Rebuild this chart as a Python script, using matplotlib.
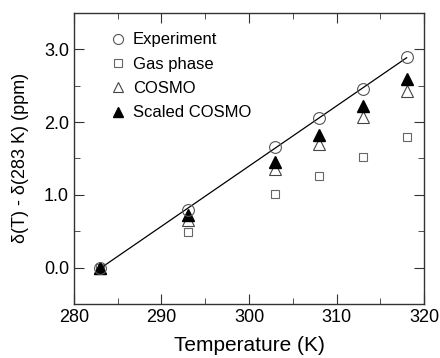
import numpy as np
import matplotlib
matplotlib.use('Agg')
import matplotlib.pyplot as plt
from matplotlib.ticker import MultipleLocator

plt.rcParams['font.family'] = ['Liberation Sans', 'DejaVu Sans']

# temperatures (K)
temp = [283, 293, 303, 308, 313, 318]
# shift differences (ppm)
experiment = [0.0, 0.795, 1.655, 2.058, 2.449, 2.899]
gas_phase = [0.0, 0.487, 1.01, 1.259, 1.525, 1.796]
cosmo = [0.0, 0.66, 1.355, 1.704, 2.07, 2.425]
scaled_cosmo = [0.0, 0.726, 1.447, 1.828, 2.219, 2.586]

fig = plt.figure(figsize=(4.4, 3.58), dpi=100)
ax = fig.add_axes([0.168, 0.151, 0.796, 0.813])

# linear fit of experiment
k, b = np.polyfit(temp, experiment, 1)
xs = np.array([temp[0], temp[-1]])
ax.plot(xs, k * xs + b, color='black', lw=0.9, zorder=5)

ax.plot(temp, gas_phase, 's', ms=6, mfc='none', mec='#666666', mew=0.8,
        ls='none', label='Gas phase', zorder=2)
ax.plot(temp, cosmo, '^', ms=9, mfc='white', mec='#444444', mew=0.8,
        ls='none', label='COSMO', zorder=3)
ax.plot(temp, scaled_cosmo, '^', ms=9, mfc='black', mec='black',
        ls='none', label='Scaled COSMO', zorder=4)
ax.plot(temp, experiment, 'o', ms=8.5, mfc='none', mec='#555555', mew=0.8,
        ls='none', label='Experiment', zorder=6)

h, l = ax.get_legend_handles_labels()
order = [3, 0, 1, 2]
ax.legend([h[i] for i in order], [l[i] for i in order], loc='upper left',
          bbox_to_anchor=(0.102, 0.933), frameon=False, fontsize=12,
          borderpad=0, borderaxespad=0,
          handlelength=1.0, handletextpad=0.4, labelspacing=0.56,
          markerscale=0.85)

ax.set_xlim(280, 320)
ax.set_ylim(-0.5, 3.5)
ax.xaxis.set_major_locator(MultipleLocator(10))
ax.xaxis.set_minor_locator(MultipleLocator(5))
ax.yaxis.set_major_locator(MultipleLocator(1.0))
ax.yaxis.set_minor_locator(MultipleLocator(0.5))
ax.yaxis.set_major_formatter(matplotlib.ticker.FormatStrFormatter('%.1f'))
ax.tick_params(which='both', direction='in', top=True, right=True,
               labelsize=13, color='#333333')
ax.tick_params(which='major', length=7, pad=3.5)
ax.tick_params(which='minor', length=4)
for s in ax.spines.values():
    s.set_linewidth(1.0)
    s.set_color('#333333')

ax.set_xlabel('Temperature (K)', fontsize=15, labelpad=7)
ax.set_ylabel('δ(T) - δ(283 K) (ppm)', fontsize=13, labelpad=11)

fig.savefig('out.png', dpi=100)
